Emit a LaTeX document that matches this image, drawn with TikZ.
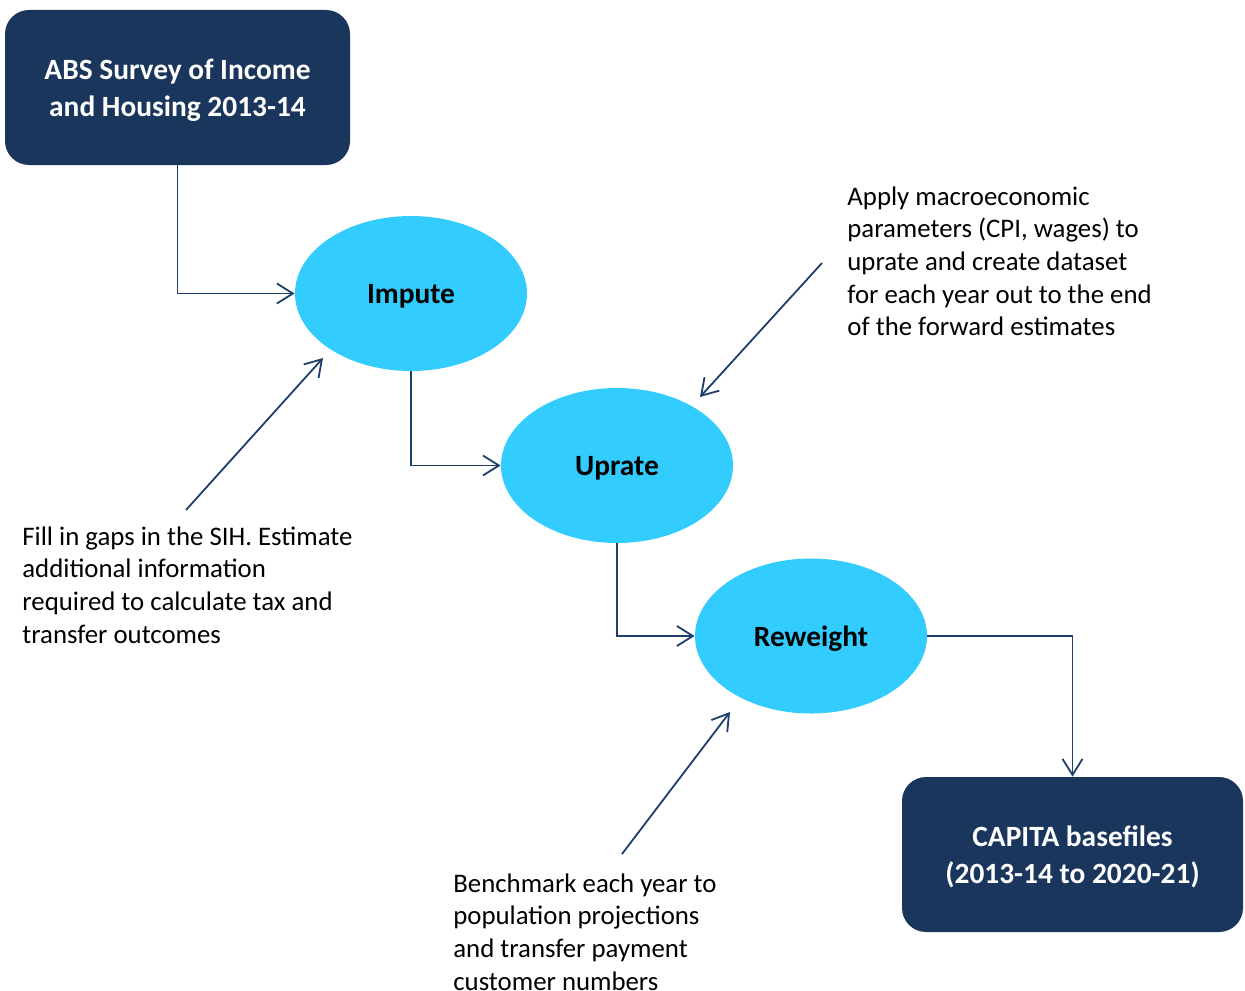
\documentclass[tikz,border=0pt]{standalone}
\usepackage{fontspec}
\setmainfont{Carlito}
\usetikzlibrary{arrows.meta,shapes.geometric}
\definecolor{navy}{RGB}{26,54,93}
\definecolor{skyblue}{RGB}{51,204,255}
\definecolor{linkblue}{RGB}{30,62,108}
\tikzstyle{data box}=[rectangle,rounded corners=12pt,fill=navy,text=white,align=center,minimum height=77.5pt,inner sep=0pt,text depth=0pt,font=\bfseries\fontsize{14.7}{18.5}\selectfont]
\tikzstyle{stage}=[ellipse,fill=skyblue,minimum width=116pt,minimum height=77.5pt,inner sep=0pt,text depth=0pt,font=\bfseries\fontsize{14.7}{18.5}\selectfont]
\tikzstyle{note}=[anchor=north west,align=left,inner sep=0pt,font=\fontsize{13.4}{16.35}\selectfont]
\tikzstyle{link}=[draw,linkblue,line width=0.9pt,-{Straight Barb[length=8pt,width=10pt]}]

\begin{document}
\begin{tikzpicture}[x=0.5pt,y=-0.5pt]
    \useasboundingbox (0,0) rectangle (1245,990);
    % Data sets at start and end
    \node[data box,minimum width=172.5pt] (sih) at (177.5,87.5) {ABS Survey of Income\\and Housing 2013-14};
    \node[data box,minimum width=170.5pt] (capita) at (1072.5,854.5) {CAPITA basefiles\\(2013-14 to 2020-21)};

    % The three stages
    \foreach \pos/\name/\word in {{(411,293.5)/impute/Impute},{(617,465.5)/uprate/Uprate},{(811,636)/reweight/Reweight}}
        \node[stage] (\name) at \pos {\word};

    % Notes
    \node[note] (fillnote) at (22,526) {Fill in gaps in the SIH. Estimate\\additional information\\required to calculate tax and\\transfer outcomes};
    \node[note] (applynote) at (847,186) {Apply macroeconomic\\parameters (CPI, wages) to\\uprate and create dataset\\for each year out to the end\\of the forward estimates};
    \node[note] (benchnote) at (453,873) {Benchmark each year to\\population projections\\and transfer payment\\customer numbers};

    % Flow between boxes
    \path[link] (sih.south) |- (impute.west);
    \path[link] (impute.south) |- (uprate.west);
    \path[link] (uprate.south) |- (reweight.west);
    \path[link] (reweight.east) -| (capita.north);

    % Note pointers
    \foreach \name/\tx/\ty/\hx/\hy in {impute/186/510/323/358,uprate/822/263/700/397,reweight/622/854/730/712}
    {
        \coordinate (\name-tail) at (\tx,\ty);
        \coordinate (\name-head) at (\hx,\hy);
        \path[link] (\name-tail) -- (\name-head);
    }
\end{tikzpicture}
\end{document}
